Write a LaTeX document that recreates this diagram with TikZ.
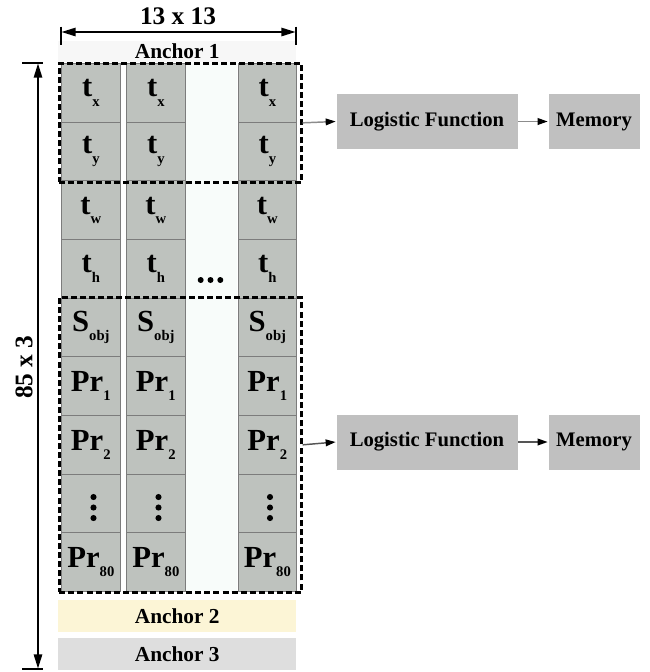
\documentclass[tikz,border=0pt]{standalone}
\usepackage{fontspec}
\setmainfont{Liberation Serif}
\usetikzlibrary{arrows.meta}

\definecolor{cellfill}{HTML}{BEC2BE}
\definecolor{cellline}{HTML}{7C7C7C}
\definecolor{gapfill}{HTML}{F8FCFA}
\definecolor{anchorA}{HTML}{F7F7F7}
\definecolor{anchorB}{HTML}{FCF5D6}
\definecolor{anchorC}{HTML}{DEDEDE}
\definecolor{procfill}{HTML}{C0C0C0}
\definecolor{linkA}{HTML}{8C8C8C}
\definecolor{linkB}{HTML}{555555}

% subscript used inside the grid cells
\newcommand{\cellsub}[1]{\raisebox{-0.3em}{\fontsize{11}{11}\selectfont #1}}

\tikzset{
  cell/.style={draw=cellline, line width=0.75pt, fill=cellfill, anchor=north west,
    minimum width=44pt, minimum height=44pt, inner sep=0pt,
    font=\fontsize{23}{23}\selectfont\bfseries},
  group/.style={draw=black, line width=2pt, dash pattern=on 4.5pt off 2.3pt,
    anchor=north west, inner sep=0pt},
  band/.style={anchor=north west, minimum width=178.5pt, inner sep=0pt,
    font=\fontsize{16}{16}\selectfont\bfseries},
  proc/.style={fill=procfill, draw=white, line width=0.5pt, minimum height=42pt,
    inner sep=0pt, font=\fontsize{15.5}{15.5}\selectfont\bfseries},
  link/.style={line width=1.1pt, -{Triangle[length=7.5pt,width=5pt,color=black]}},
  dim/.style={line width=2pt},
  dimbar/.style={line width=2pt},
  dimtext/.style={font=\fontsize{19}{19}\selectfont\bfseries},
  dot/.style={fill=black}
}

\begin{document}
\begin{tikzpicture}[x=0.75pt,y=-0.75pt]
\useasboundingbox (0,0) rectangle (650,672);

% blank column standing for the omitted grid cells
\fill[gapfill] (184,63) rectangle (237,591);

% anchor bands
\node[band, fill=anchorA, minimum height=15.75pt] (anc1) at (58,40.5) {Anchor 1};
\node[band, fill=anchorB, minimum height=24pt] (anc2) at (58,600) {Anchor 2};
\node[band, fill=anchorC, minimum height=24pt] (anc3) at (58,638) {Anchor 3};

% the three visible grid columns
\foreach \cx [count=\ci] in {61,126,237.5}{
  \foreach \lab [count=\ri from 0] in {
      t\cellsub{x}, t\cellsub{y}, t\cellsub{w}, t\cellsub{h},
      S\cellsub{obj}, Pr\cellsub{1}, Pr\cellsub{2}, {}, Pr\cellsub{80}}{
    \node[cell] (c\ci r\ri) at (\cx, 63+58.67*\ri) {\lab};
  }
  % vertical ellipsis cell
  \foreach \dy in {-10.5,0,10.5}
    \fill[dot] ([xshift=2pt,yshift=-3pt-\dy*0.75pt]c\ci r7.center) circle (2.3pt);
}

% horizontal ellipsis between the columns
\foreach \dx in {200.7,210.5,220.3}
  \fill[dot] (\dx,280) circle (3);

% dashed groups: box coordinates and class scores
\node[group, minimum width=181.5pt, minimum height=89.25pt] (grp1) at (58,62) {};
\node[group, minimum width=181.5pt, minimum height=221.25pt] (grp2) at (58,296) {};

% processing chains
\node[proc, minimum width=136.5pt] (log1) at (427,121.5) {Logistic Function};
\node[proc, minimum width=69pt] (mem1) at (594,121.5) {Memory};
\node[proc, minimum width=136.5pt] (log2) at (427,442) {Logistic Function};
\node[proc, minimum width=69pt] (mem2) at (594,442) {Memory};

\draw[link, draw=linkA] (grp1.east) -- (log1.west);
\draw[link, draw=linkA] (log1.east) -- (mem1.west);
\draw[link, draw=linkB] (grp2.east) -- (log2.west);
\draw[link, draw=linkB] (log2.east) -- (mem2.west);

% grid width dimension
\coordinate (hL) at (61,32);
\coordinate (hR) at (296,32);
\draw[dimbar] (61,26.5) -- (61,44.5);
\draw[dimbar] (296,26.5) -- (296,44.5);
\draw[dim, {Triangle[length=11pt,width=6pt]}-{Triangle[length=11pt,width=6pt]}] (hL) -- (hR);
\node[dimtext] (wlab) at (178,16) {13 x 13};

% depth dimension
\coordinate (vT) at (38,63);
\coordinate (vB) at (38,669);
\draw[dimbar] (22,63) -- (43,63);
\draw[dimbar] (22,669) -- (43,669);
\draw[dim, {Triangle[length=11pt,width=6pt]}-{Triangle[length=11pt,width=6pt]}] (vT) -- (vB);
\node[dimtext, rotate=90] (dlab) at (24,367) {85 x 3};

\end{tikzpicture}
\end{document}
